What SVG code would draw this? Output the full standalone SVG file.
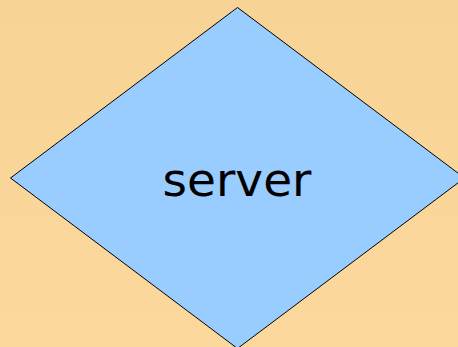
<svg xmlns="http://www.w3.org/2000/svg" width="458" height="347" viewBox="0 0 458 347">
  <defs>
    <linearGradient id="bg" x1="0" y1="0" x2="0" y2="1">
      <stop offset="0" stop-color="#F7D395"/>
      <stop offset="1" stop-color="#FCD89D"/>
    </linearGradient>
  </defs>
  <style>
    .shape { fill: #99CCFF; stroke: #000000; stroke-width: 1; }
    .label { font-family: "DejaVu Sans", sans-serif; font-size: 47px; fill: #000000; text-anchor: middle; }
  </style>
  <rect x="0" y="0" width="458" height="347" fill="url(#bg)"/>
  <g id="server">
    <polygon class="shape" points="237.5,7.5 464.5,178 237.5,348.5 10.5,178"/>
    <text class="label" x="237" y="195.5">server</text>
  </g>
  <g id="connectors"/>
</svg>
